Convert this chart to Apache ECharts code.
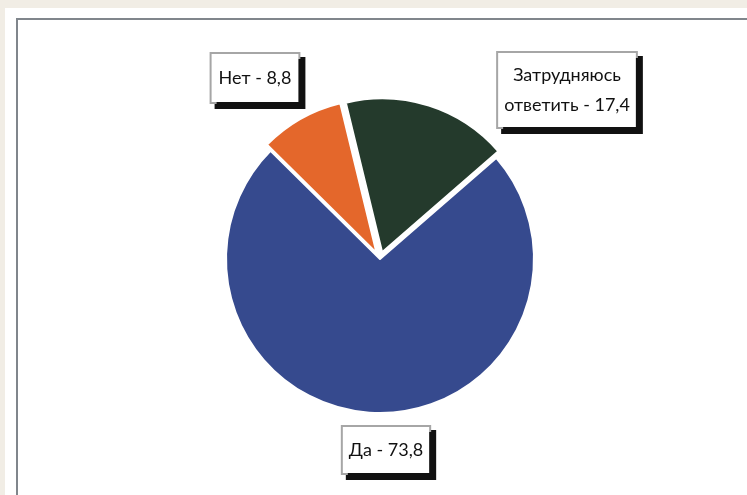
<!DOCTYPE html>
<html>
<head>
<meta charset="utf-8">
<script src="https://cdn.jsdelivr.net/npm/echarts@6/dist/echarts.min.js"></script>
<style>
  html, body { margin: 0; padding: 0; background: #f1ede5; }
  #chart { width: 747px; height: 495px; }
</style>
</head>
<body>
<div id="chart"></div>
<script>
// data
const categories = ['Да', 'Нет', 'Затрудняюсь\nответить'];
const values = [73.8, 8.8, 17.4];
const colors = ['#364a8e', '#e4672b', '#243a2c'];

// label box layout (center of each box)
const labelPos = [[386, 450], [255, 78], [567, 90]];
const labelPad = [[8, 6], [9, 7], [7, 6]];

const chart = echarts.init(document.getElementById('chart'));

const pieBase = {
  type: 'pie',
  center: [380, 259],
  radius: 154,
  startAngle: 41,
  clockwise: true,
  avoidLabelOverlap: false,
  emphasis: { disabled: true },
  labelLine: { show: false }
};

chart.setOption({
  backgroundColor: '#f1ede5',
  animation: false,
  graphic: [
    { type: 'rect', shape: { x: 5, y: 8, width: 760, height: 500 }, style: { fill: '#ffffff' }, z: -10 },
    { type: 'rect', shape: { x: 17, y: 19, width: 760, height: 500 }, style: { fill: '#ffffff', stroke: '#80868c', lineWidth: 2 }, z: -9 }
  ],
  series: [
    Object.assign({}, pieBase, {
      selectedMode: 'multiple',
      selectedOffset: 7,
      itemStyle: { borderColor: '#ffffff', borderWidth: 2 },
      label: { show: false },
      data: categories.map((c, i) => ({
        name: c,
        value: values[i],
        selected: i > 0,
        itemStyle: { color: colors[i] }
      }))
    }),
    // labels only
    Object.assign({}, pieBase, {
      silent: true,
      z: 5,
      itemStyle: { color: 'rgba(0,0,0,0)', borderWidth: 0 },
      label: {
        show: true,
        position: 'inside',
        color: '#111111',
        fontFamily: 'Lato',
        fontSize: 18,
        lineHeight: 30,
        align: 'center',
        backgroundColor: '#ffffff',
        borderColor: '#a6a6a6',
        borderWidth: 2,
        shadowColor: '#111111',
        shadowBlur: 0,
        shadowOffsetX: 5,
        shadowOffsetY: 5,
        formatter: p => p.name + ' - ' + String(p.value).replace('.', ',')
      },
      labelLayout: p => ({
        x: labelPos[p.dataIndex][0],
        y: labelPos[p.dataIndex][1],
        align: 'center',
        verticalAlign: 'middle'
      }),
      data: categories.map((c, i) => ({
        name: c,
        value: values[i],
        label: { padding: labelPad[i] }
      }))
    })
  ]
});
</script>
</body>
</html>
